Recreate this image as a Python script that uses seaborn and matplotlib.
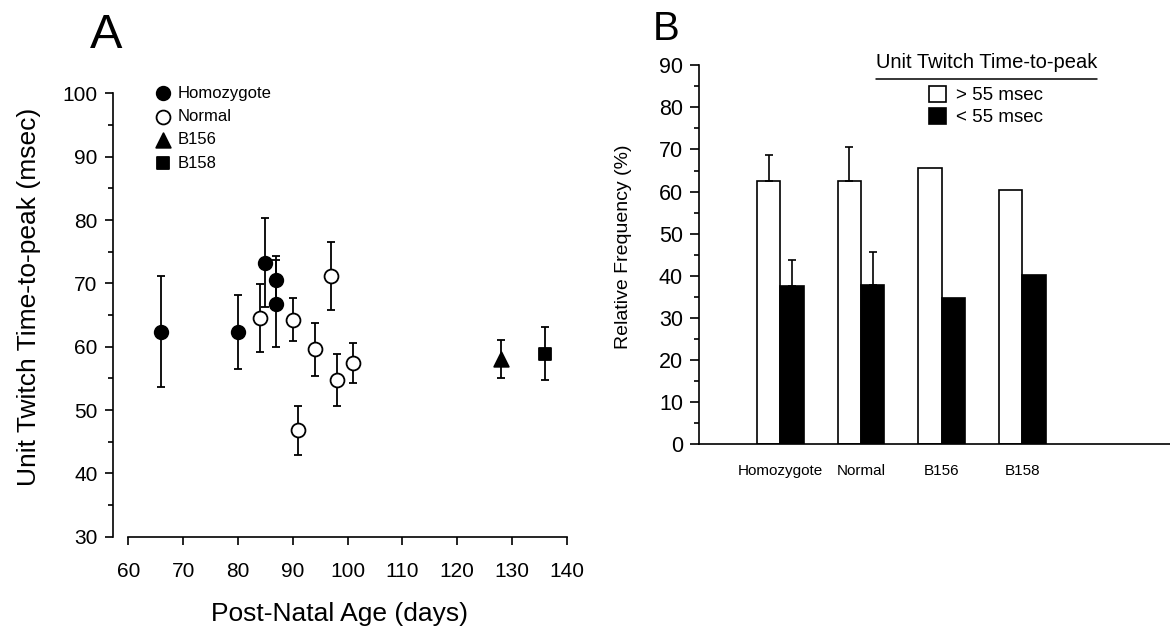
import matplotlib
matplotlib.use("Agg")
import matplotlib.pyplot as plt
from matplotlib.lines import Line2D
from matplotlib.ticker import MultipleLocator
import pandas as pd
import seaborn as sns

# ---- panel A data: post-natal age (days) vs unit twitch time-to-peak (msec)
homo_days = [66, 80, 85, 87, 87]
homo_ttp = [62.4, 62.3, 73.3, 70.5, 66.8]
homo_err = [8.8, 5.8, 7.1, 3.9, 6.9]

normal_days = [84, 90, 91, 94, 97, 98, 101]
normal_ttp = [64.5, 64.3, 46.8, 59.6, 71.2, 54.8, 57.4]
normal_err = [5.4, 3.4, 3.9, 4.2, 5.4, 4.1, 3.2]

b156_days = [128]
b156_ttp = [58.0]
b156_err = [3.0]

b158_days = [136]
b158_ttp = [58.9]
b158_err = [4.2]

# ---- panel B data: relative frequency (%)
groups = ["Homozygote", "Normal", "B156", "B158"]
classes = ["> 55 msec", "< 55 msec"]
freq_gt55 = [62.4, 62.6, 65.7, 60.3]
freq_lt55 = [37.6, 37.8, 34.7, 40.2]
err_gt55 = [6.2, 7.9, 0, 0]
err_lt55 = [6.1, 7.8, 0, 0]

sns.set_style("ticks")
plt.rcParams["font.family"] = ["Liberation Sans", "DejaVu Sans"]
plt.rcParams.update({"text.color": "black", "axes.labelcolor": "black",
                     "xtick.color": "black", "ytick.color": "black",
                     "axes.edgecolor": "black"})

fig = plt.figure(figsize=(11.7, 6.3), dpi=100)

# ================= panel A =================
axA = fig.add_axes([0.0963, 0.1481, 0.3883, 0.7035])

series = [
    ("Homozygote", homo_days, homo_ttp, homo_err, "o", "black", 95),
    ("Normal", normal_days, normal_ttp, normal_err, "o", "white", 100),
    ("B156", b156_days, b156_ttp, b156_err, "^", "black", 110),
    ("B158", b158_days, b158_ttp, b158_err, "s", "black", 85),
]
handles = []
for name, xs, ys, es, mk, fc, size in series:
    axA.errorbar(xs, ys, yerr=es, fmt="none", ecolor="black",
                 elinewidth=1.3, capsize=2.6, capthick=1.3, zorder=1)
    sns.scatterplot(x=xs, y=ys, marker=mk, s=size, color=fc,
                    edgecolor="black", linewidth=1.3, zorder=3,
                    label=name, legend=False, ax=axA)
    handles.append(axA.collections[-1])

axA.set_xlim(57.15, 140)
axA.set_ylim(30, 100)
axA.xaxis.set_major_locator(MultipleLocator(10))
axA.yaxis.set_major_locator(MultipleLocator(10))
axA.yaxis.set_minor_locator(MultipleLocator(5))
axA.spines["top"].set_visible(False)
axA.spines["right"].set_visible(False)
axA.spines["left"].set_bounds(30, 100)
axA.spines["bottom"].set_bounds(60, 140)
for s in ("left", "bottom"):
    axA.spines[s].set_linewidth(1.2)
axA.tick_params(axis="both", which="major", labelsize=15, width=1.2, length=6)
axA.tick_params(axis="y", which="major", pad=5)
axA.tick_params(axis="x", which="major", pad=12)
axA.tick_params(axis="y", which="minor", width=1.2, length=3.5)
axA.set_xlabel("Post-Natal Age (days)", fontsize=19, labelpad=15)
axA.set_ylabel("Unit Twitch Time-to-peak (msec)", fontsize=19)
axA.yaxis.set_label_coords(-0.158, 0.54)

axA.legend(handles, [h.get_label() for h in handles], loc="upper left",
           bbox_to_anchor=(0.1322, 0.864), bbox_transform=fig.transFigure,
           frameon=False, fontsize=12, handlelength=1.0, handletextpad=0.4,
           labelspacing=0.5, borderpad=0, borderaxespad=0, scatterpoints=1)

# ================= panel B =================
axB = fig.add_axes([0.5974, 0.2948, 0.4026, 0.6016])

dfB = pd.DataFrame({
    "group": groups * 2,
    "class": [classes[0]] * len(groups) + [classes[1]] * len(groups),
    "freq": freq_gt55 + freq_lt55,
})
sns.barplot(data=dfB, x="group", y="freq", hue="class", order=groups,
            hue_order=classes, palette={classes[0]: "white", classes[1]: "black"},
            edgecolor="black", linewidth=1.2, width=0.58, errorbar=None,
            saturation=1, ax=axB)

for cont, errs in zip(axB.containers, [err_gt55, err_lt55]):
    xs = [b.get_x() + b.get_width() / 2 for b in cont]
    ys = [b.get_height() for b in cont]
    pos = [(x, y, e) for x, y, e in zip(xs, ys, errs) if e > 0]
    axB.errorbar([p[0] for p in pos], [p[1] for p in pos],
                 yerr=[[0] * len(pos), [p[2] for p in pos]], fmt="none",
                 ecolor="black", elinewidth=1.2, capsize=2.6, capthick=1.2,
                 zorder=1)

axB.set_xlim(-1.01, 4.83)
axB.set_ylim(0, 90)
axB.yaxis.set_major_locator(MultipleLocator(10))
axB.yaxis.set_minor_locator(MultipleLocator(5))
axB.spines["top"].set_visible(False)
axB.spines["right"].set_visible(False)
for s in ("left", "bottom"):
    axB.spines[s].set_linewidth(1.2)
axB.tick_params(axis="y", which="major", labelsize=15.5, width=1.2, length=6.5, pad=5)
axB.tick_params(axis="y", which="minor", width=1.2, length=3.5)
axB.tick_params(axis="x", length=0, labelsize=11, pad=14)
axB.set_xlabel("")
axB.set_ylabel("Relative Frequency (%)", fontsize=14)
axB.yaxis.set_label_coords(-0.142, 0.52)

legB = axB.legend(loc="upper left", bbox_to_anchor=(0.794, 0.8635),
                  bbox_transform=fig.transFigure, frameon=False, fontsize=13.5,
                  handlelength=0.9, handleheight=0.9, handletextpad=0.55,
                  labelspacing=0.2, borderpad=0, borderaxespad=0)

title = fig.text(0.8433, 0.9, "Unit Twitch Time-to-peak", ha="center",
                 va="center", fontsize=14.5)
fig.canvas.draw()
bb = title.get_window_extent().transformed(fig.transFigure.inverted())
fig.add_artist(Line2D([bb.x0, bb.x1], [0.8746, 0.8746], color="black", lw=1.1))

# panel letters
fig.text(106 / 1170, 1 - 36 / 630, "A", fontsize=35, ha="center", va="center")
fig.text(666 / 1170, 1 - 29 / 630, "B", fontsize=29, ha="center", va="center")

fig.savefig("out.png", dpi=100)
